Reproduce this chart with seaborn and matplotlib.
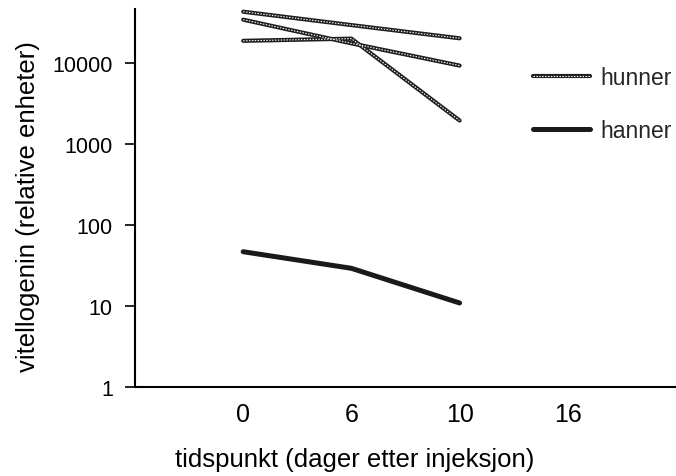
import matplotlib
matplotlib.use("Agg")
import matplotlib.pyplot as plt
from matplotlib.lines import Line2D
from matplotlib.legend_handler import HandlerTuple
import seaborn as sns
import pandas as pd

# Data
days = ["0", "6", "10", "16"]
hunn_1 = [43000, 29400, 20200]
hunn_2 = [34300, 17500, 9300]
hunn_3 = [18800, 20000, 1950]
hann_1 = [46.8, 29.2, 10.9]

series = {"hunner": [hunn_1, hunn_2, hunn_3], "hanner": [hann_1]}
rows = []
for sex, lst in series.items():
    for k, vals in enumerate(lst):
        for i, v in enumerate(vals):
            rows.append({"pos": i, "dag": days[i], "vitellogenin": v,
                         "kjonn": sex, "fisk": f"{sex}{k}"})
df = pd.DataFrame(rows)

sns.set_theme(style="white")
plt.rcParams["font.family"] = ["Liberation Sans", "DejaVu Sans"]

fig = plt.figure(figsize=(6.76, 4.77), dpi=100)
ax = fig.add_axes([135 / 676, 89 / 477, 541 / 676, 378 / 477])

hun = df[df.kjonn == "hunner"]
sns.lineplot(data=hun, x="pos", y="vitellogenin", units="fisk", estimator=None,
             color="#1e1e1e", lw=3.0, ax=ax, legend=False)
sns.lineplot(data=hun, x="pos", y="vitellogenin", units="fisk", estimator=None,
             color="white", lw=0.8, linestyle=(0, (1.3, 1.3)), ax=ax, legend=False)
sns.lineplot(data=df[df.kjonn == "hanner"], x="pos", y="vitellogenin",
             units="fisk", estimator=None, color="#1a1a1a", lw=3.6,
             ax=ax, legend=False)

ax.set_yscale("log")
ax.set_ylim(1, 10 ** 4.667)
ax.set_yticks([1, 10, 100, 1000, 10000])
ax.set_yticklabels(["1", "10", "100", "1000", "10000"], fontsize=15.5)
ax.minorticks_off()
ax.set_xlim(-1, 4)
ax.set_xticks(range(len(days)))
ax.set_xticklabels(days, fontsize=18)

ax.tick_params(axis="y", direction="out", length=7, width=1.2, pad=9, left=True, colors="black")
ax.tick_params(axis="x", length=0, pad=11, colors="black")
for s in ["top", "right"]:
    ax.spines[s].set_visible(False)
for s in ["left", "bottom"]:
    ax.spines[s].set_color("black")
    ax.spines[s].set_linewidth(1.5)

ax.set_xlabel("tidspunkt (dager etter injeksjon)", fontsize=18.5, color="black")
ax.set_ylabel("vitellogenin (relative enheter)", fontsize=18.5, color="black")
ax.xaxis.set_label_coords((355 - 135) / 541, (388 - 448) / 378)
ax.yaxis.set_label_coords((40 - 135) / 541, (388 - 207) / 378)

h_base = Line2D([], [], color="#1e1e1e", lw=3.0)
h_top = Line2D([], [], color="white", lw=0.8, linestyle=(0, (1.3, 1.3)))
h_male = Line2D([], [], color="#1a1a1a", lw=3.6)
leg = fig.legend([(h_base, h_top), h_male], ["hunner", "hanner"], loc="upper left",
                 bbox_to_anchor=(533 / 676, 1 - 67 / 477), frameon=False,
                 borderpad=0, borderaxespad=0,
                 handler_map={tuple: HandlerTuple(ndivide=1, pad=0)},
                 fontsize=16.5, handlelength=2.5, handletextpad=0.45, labelspacing=1.3)

fig.savefig("out.png", dpi=100)
